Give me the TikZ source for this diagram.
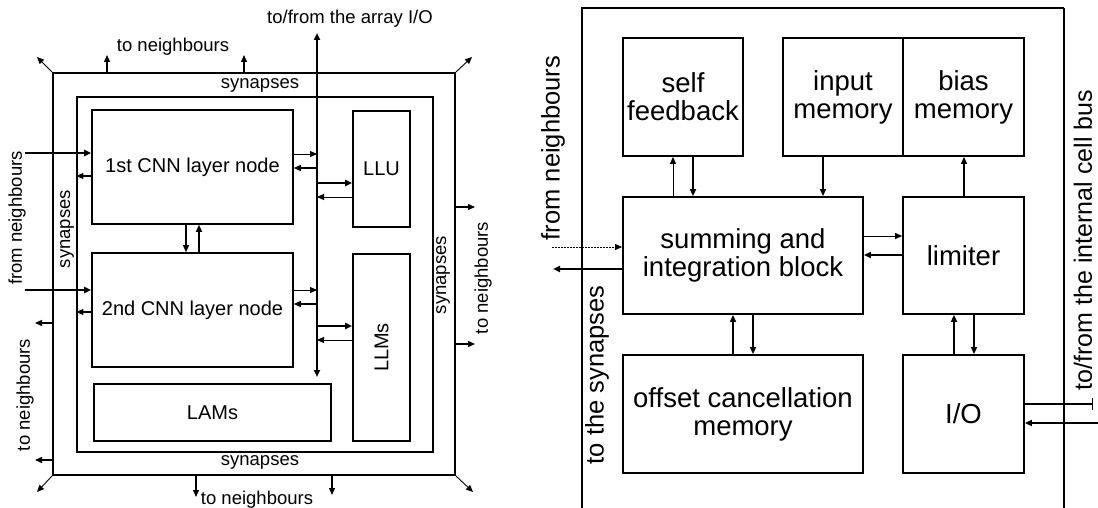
\documentclass[tikz,border=0pt]{standalone}
\usepackage{fontspec}
\setmainfont{Liberation Sans}
\usetikzlibrary{arrows.meta}

\begin{document}
\begin{tikzpicture}[x=1pt,y=-1pt,
    box/.style={draw,line width=1.6pt,inner sep=0pt,align=center},
    frame/.style={draw,inner sep=0pt},
    tip/.style={-{Triangle[length=7pt,width=6pt]}},
    thinarrow/.style={tip,line width=0.9pt},
    midarrow/.style={tip,line width=1.3pt},
    thickarrow/.style={tip,line width=1.9pt},
    small/.style={inner sep=0pt,font=\fontsize{18.5}{20}\selectfont},
    leftbox/.style={box,font=\fontsize{20}{22}\selectfont},
    rightbox/.style={box,line width=1.8pt,font=\fontsize{27.5}{28}\selectfont},
    big/.style={inner sep=0pt,font=\fontsize{25.5}{27}\selectfont}]
    \useasboundingbox (0,0) rectangle (1098,508);

    % Left: cell with two layer nodes
    \node[frame,line width=2pt,minimum width=402pt,minimum height=402pt] (outer) at (254,274) {};
    \node[frame,line width=1.4pt,minimum width=356pt,minimum height=355pt] (inner) at (255,274.5) {};

    \node[leftbox,minimum width=201pt,minimum height=114pt] (cnnA) at (192.5,167) {1st CNN layer node};
    \node[leftbox,minimum width=201pt,minimum height=114pt] (cnnB) at (192.5,310) {2nd CNN layer node};
    \node[leftbox,minimum width=237pt,minimum height=57pt] (lams) at (212.5,412.5) {LAMs};
    \node[leftbox,minimum width=57pt,minimum height=116pt] (llu) at (381.5,169) {LLU};
    \node[leftbox,rotate=90,minimum width=187pt,minimum height=57pt] (llms) at (381.5,347.5) {LLMs};

    % Labels
    \node[small] (arrayio) at (350,19) {to/from the array I/O};
    \node[small] (nbTop) at (173,47) {to neighbours};
    \node[small] (synTop) at (260,85) {synapses};
    \node[small] (synBot) at (260,462) {synapses};
    \node[small] (nbBot) at (257,500) {to neighbours};
    \node[small,rotate=90] (synLeft) at (67,229) {synapses};
    \node[small,rotate=90] (fnLeft) at (17,218) {from neighbours};
    \node[small,rotate=90] (nbLeft) at (25,395) {to neighbours};
    \node[small,rotate=90] (synRight) at (443,275) {synapses};
    \node[small,rotate=90] (nbRight) at (483,278) {to neighbours};

    % Free ends
    \foreach \n/\x/\y in {busT/317/33, busB/317/377,
        nbT1/107/55, nbT2/244/55, nbB1/196/497, nbB2/332/495,
        nbL1/35/323, nbL2/35/460, nbR1/475/207, nbR2/475/344,
        fnA/25/153, fnB/25/290,
        cNW/37/57, cNE/472/57, cSW/37/492, cSE/473/492}
      \coordinate (\n) at (\x,\y);

    % Internal bus
    \draw[line width=1.8pt,{Triangle[length=7pt,width=6pt]}-{Triangle[length=7pt,width=6pt]}] (busB) -- (busT);

    % Links to the bus
    \draw[thinarrow] (cnnA.east |- 0,154) -- (busT |- 0,154);
    \draw[midarrow] (busT |- 0,168) -- (cnnA.east |- 0,168);
    \draw[thickarrow] (busT |- 0,183) -- (llu.west |- 0,183);
    \draw[thinarrow] (llu.west |- 0,197) -- (busT |- 0,197);
    \draw[thinarrow] (cnnB.east |- 0,290) -- (busT |- 0,290);
    \draw[midarrow] (busT |- 0,304) -- (cnnB.east |- 0,304);
    \draw[thickarrow] (busT |- 0,326) -- (llms.north |- 0,326);
    \draw[thinarrow] (llms.north |- 0,340) -- (busT |- 0,340);

    % Between the layers
    \draw[midarrow] (cnnA.south -| 186,0) -- (cnnB.north -| 186,0);
    \draw[midarrow] (cnnB.north -| 199,0) -- (cnnA.south -| 199,0);

    % From and to the neighbours
    \draw[thickarrow] (fnA) -- (cnnA.west |- fnA);
    \draw[thickarrow] (fnB) -- (cnnB.west |- fnB);
    \draw[midarrow] (cnnA.west |- 0,176) -- (inner.west |- 0,176);
    \draw[midarrow] (cnnB.west |- 0,312) -- (inner.west |- 0,312);
    \foreach \c in {nbT1,nbT2}
      \draw[midarrow] (outer.north -| \c) -- (\c);
    \foreach \c in {nbB1,nbB2}
      \draw[midarrow] (outer.south -| \c) -- (\c);
    \foreach \c in {nbL1,nbL2}
      \draw[midarrow] (outer.west |- \c) -- (\c);
    \foreach \c in {nbR1,nbR2}
      \draw[midarrow] (outer.east |- \c) -- (\c);
    \draw[thinarrow] (outer.north west) -- (cNW);
    \draw[thinarrow] (outer.north east) -- (cNE);
    \draw[thinarrow] (outer.south west) -- (cSW);
    \draw[thinarrow] (outer.south east) -- (cSE);

    % Right: inside the cell
    \draw[line width=2.2pt] (582,508) -- (582,8) -- (1064,8);
    \draw[line width=1.2pt] (1064,8) -- (1064,508);

    \node[rightbox,minimum width=120pt,minimum height=118pt] (selffb) at (683,97) {self\\feedback};
    \node[rightbox,minimum width=120pt,minimum height=118pt] (inmem) at (843,97) {input\\memory};
    \node[rightbox,minimum width=121pt,minimum height=118pt] (biasmem) at (963.5,97) {bias\\memory};
    \node[rightbox,minimum width=240pt,minimum height=117pt] (summ) at (743,255.5) {summing and\\integration block};
    \node[rightbox,minimum width=121pt,minimum height=117pt] (limiter) at (963.5,255.5) {limiter};
    \node[rightbox,minimum width=240pt,minimum height=118pt] (offset) at (743,414) {offset cancellation\\memory};
    \node[rightbox,minimum width=121pt,minimum height=118pt] (io) at (963.5,414) {I/O};

    \node[big,rotate=90] (fnCell) at (553,148) {from neighbours};
    \node[big,rotate=90] (toSyn) at (597,375) {to the synapses};
    \node[big,rotate=90,font=\fontsize{25}{26}\selectfont] (cellbus) at (1083,240) {to/from the internal cell bus};

    \foreach \n/\x/\y in {fnR/552/247, synR/553/269, ioOut/1093/404, ioIn/1098/423}
      \coordinate (\n) at (\x,\y);

    % Links between the blocks
    \draw[thinarrow] (summ.north -| 673,0) -- (selffb.south -| 673,0);
    \draw[thickarrow] (selffb.south -| 693,0) -- (summ.north -| 693,0);
    \draw[midarrow] (inmem.south -| 823,0) -- (summ.north -| 823,0);
    \draw[midarrow] (limiter.north -| 964,0) -- (biasmem.south -| 964,0);
    \draw[thinarrow] (summ.east |- 0,236) -- (limiter.west |- 0,236);
    \draw[midarrow] (limiter.west |- 0,255) -- (summ.east |- 0,255);
    \draw[midarrow] (offset.north -| 733,0) -- (summ.south -| 733,0);
    \draw[midarrow] (summ.south -| 753,0) -- (offset.north -| 753,0);
    \draw[thickarrow] (io.north -| 954,0) -- (limiter.south -| 954,0);
    \draw[midarrow] (limiter.south -| 974,0) -- (io.north -| 974,0);

    % To and from outside
    \draw[line width=0.9pt,dash pattern=on 2pt off 1pt,-{Triangle[length=7pt,width=6pt]}] (fnR) -- (summ.west |- fnR);
    \draw[thickarrow] (summ.west |- synR) -- (synR);
    \draw[line width=2.2pt,-{Bar[width=12pt,line width=1pt]}] (io.east |- ioOut) -- (ioOut);
    \draw[thickarrow] (ioIn) -- (io.east |- ioIn);
\end{tikzpicture}
\end{document}
